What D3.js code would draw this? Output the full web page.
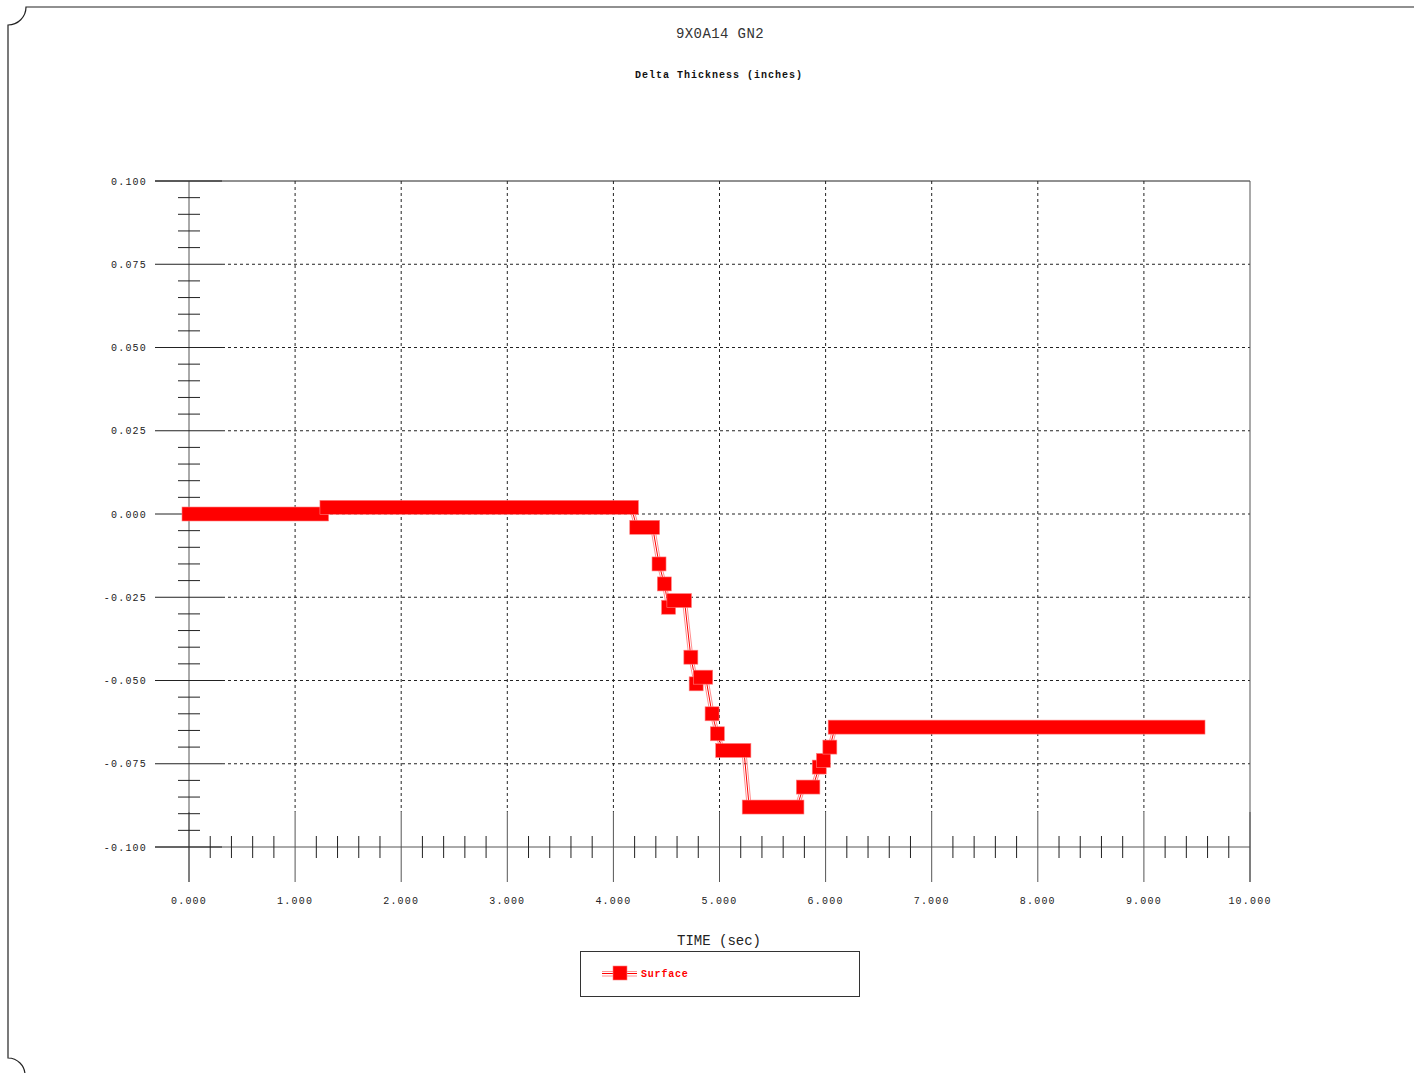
<!DOCTYPE html>
<html>
<head>
<meta charset="utf-8">
<script src="https://cdn.jsdelivr.net/npm/d3@7"></script>
<style>
  body { margin: 0; background: #fff; }
  text { font-family: "Liberation Mono", "DejaVu Sans Mono", monospace; }
</style>
</head>
<body>
<div id="chart"></div>
<script>
// Step segments: start time, end time (sec), value (inches)
const segStart = [0.00, 1.30, 4.22, 4.43, 4.48, 4.52, 4.57, 4.73, 4.78, 4.82, 4.93, 4.98, 5.03, 5.28, 5.79, 5.94, 5.98, 6.04, 6.09];
const segEnd   = [1.25, 4.17, 4.37, 4.43, 4.48, 4.52, 4.67, 4.73, 4.78, 4.87, 4.93, 4.98, 5.23, 5.73, 5.88, 5.94, 5.98, 6.04, 9.51];
const segValue = [0.000, 0.002, -0.004, -0.015, -0.021, -0.028, -0.026, -0.043, -0.051, -0.049, -0.060, -0.066, -0.071, -0.088, -0.082, -0.076, -0.074, -0.070, -0.064];

const xTicks = [0, 1, 2, 3, 4, 5, 6, 7, 8, 9, 10];
const yTicks = [0.100, 0.075, 0.050, 0.025, 0.000, -0.025, -0.050, -0.075, -0.100];

const chartTitle = "9X0A14 GN2";
const yTitle = "Delta Thickness (inches)";
const xTitle = "TIME (sec)";
const seriesName = "Surface";

const W = 1414, H = 1073;
const plot = { left: 189, right: 1250, top: 181, bottom: 847 };
const red = "#ff0000";

const svg = d3.select("#chart").append("svg")
    .attr("width", W)
    .attr("height", H);

// paper edge with notched corners
svg.append("path")
    .attr("d", "M1414,7 L26,7 A18,18 0 0,1 8,25 L8,1058 A17,17 0 0,1 25,1075")
    .attr("fill", "none")
    .attr("stroke", "#222")
    .attr("stroke-width", 1.2);

// Scales
const x = d3.scaleLinear().domain([0, 10]).range([plot.left, plot.right]);
const y = d3.scaleLinear().domain([-0.1, 0.1]).range([plot.bottom, plot.top]);

// minor ticks
const xMinor = d3.range(0, 50).map(i => i * 0.2).filter(v => Math.abs(v - Math.round(v)) > 1e-6);
const yMinor = d3.range(-20, 21).map(i => i * 0.005).filter(v => Math.abs(v / 0.025 - Math.round(v / 0.025)) > 1e-6);

const axisG = svg.append("g");

// dashed grid
axisG.selectAll(".vgrid")
    .data(xTicks.filter(d => d > 0 && d < 10))
    .join("line")
    .attr("x1", d => x(d)).attr("x2", d => x(d))
    .attr("y1", plot.top).attr("y2", plot.bottom - 35)
    .attr("stroke", "#222").attr("stroke-dasharray", "3,3");

axisG.selectAll(".hgrid")
    .data(yTicks.filter(d => d > -0.1 && d < 0.1))
    .join("line")
    .attr("x1", plot.left + 33).attr("x2", plot.right)
    .attr("y1", d => y(d)).attr("y2", d => y(d))
    .attr("stroke", "#222").attr("stroke-dasharray", "3,3");

// frame and axes
axisG.append("line")
    .attr("x1", plot.left - 34).attr("x2", plot.right)
    .attr("y1", plot.top).attr("y2", plot.top)
    .attr("stroke", "#222");
axisG.append("line")
    .attr("x1", plot.left - 34).attr("x2", plot.right)
    .attr("y1", plot.bottom).attr("y2", plot.bottom)
    .attr("stroke", "#555");
axisG.append("line")
    .attr("x1", plot.left).attr("x2", plot.left)
    .attr("y1", plot.top).attr("y2", plot.bottom + 35)
    .attr("stroke", "#555");
axisG.append("line")
    .attr("x1", plot.right).attr("x2", plot.right)
    .attr("y1", plot.top).attr("y2", plot.bottom + 35)
    .attr("stroke", "#555");

// major ticks
axisG.selectAll(".xmajor")
    .data(xTicks)
    .join("line")
    .attr("x1", d => x(d)).attr("x2", d => x(d))
    .attr("y1", plot.bottom - 35).attr("y2", plot.bottom + 35)
    .attr("stroke", "#555");
axisG.selectAll(".ymajor")
    .data(yTicks)
    .join("line")
    .attr("x1", plot.left - 34).attr("x2", plot.left + 33)
    .attr("y1", d => y(d)).attr("y2", d => y(d))
    .attr("stroke", "#222");

// minor ticks
axisG.selectAll(".xminor")
    .data(xMinor)
    .join("line")
    .attr("x1", d => x(d)).attr("x2", d => x(d))
    .attr("y1", plot.bottom - 11).attr("y2", plot.bottom + 11)
    .attr("stroke", "#222");
axisG.selectAll(".yminor")
    .data(yMinor)
    .join("line")
    .attr("x1", plot.left - 11).attr("x2", plot.left + 11)
    .attr("y1", d => y(d)).attr("y2", d => y(d))
    .attr("stroke", "#222");

// tick labels
axisG.selectAll(".xlabel")
    .data(xTicks)
    .join("text")
    .attr("x", d => x(d))
    .attr("y", plot.bottom + 54)
    .attr("text-anchor", "middle")
    .attr("dominant-baseline", "middle")
    .style("font-size", "10px")
    .style("letter-spacing", "1.2px")
    .attr("fill", "#222")
    .text(d => d3.format(".3f")(d));

axisG.selectAll(".ylabel")
    .data(yTicks)
    .join("text")
    .attr("x", plot.left - 42)
    .attr("y", d => y(d) + 1)
    .attr("text-anchor", "end")
    .attr("dominant-baseline", "middle")
    .style("font-size", "10px")
    .style("letter-spacing", "1.2px")
    .attr("fill", "#222")
    .text(d => d3.format(".3f")(d).replace("\u2212", "-"));

// titles
svg.append("text")
    .attr("x", 720).attr("y", 34)
    .attr("text-anchor", "middle")
    .attr("dominant-baseline", "middle")
    .style("font-size", "14px")
    .style("letter-spacing", "0.4px")
    .attr("fill", "#333")
    .text(chartTitle);

svg.append("text")
    .attr("x", 719).attr("y", 75)
    .attr("text-anchor", "middle")
    .attr("dominant-baseline", "middle")
    .style("font-size", "10px")
    .style("font-weight", "bold")
    .style("letter-spacing", "1px")
    .attr("fill", "#111")
    .text(yTitle);

svg.append("text")
    .attr("x", 719).attr("y", 941)
    .attr("text-anchor", "middle")
    .attr("dominant-baseline", "middle")
    .style("font-size", "14px")
    .attr("fill", "#222")
    .text(xTitle);

// Series
const segs = segStart.map((s, i) => ({ t0: s, t1: segEnd[i], v: segValue[i] }));
const links = segs.slice(1).map((s, i) => ({ a: segs[i], b: s }));
const ms = 14;

const series = svg.append("g");
[-2, 2, 0].forEach(off => {
    series.selectAll(null)
        .data(links)
        .join("line")
        .attr("x1", d => x(d.a.t1) + off)
        .attr("y1", d => y(d.a.v))
        .attr("x2", d => x(d.b.t0) + off)
        .attr("y2", d => y(d.b.v))
        .attr("stroke", off === 0 ? red : "#ff9090")
        .attr("stroke-width", 1);
});

series.selectAll(".seg")
    .data(segs)
    .join("rect")
    .attr("x", d => x(d.t0) - ms / 2)
    .attr("y", d => y(d.v) - ms / 2)
    .attr("width", d => x(d.t1) - x(d.t0) + ms)
    .attr("height", ms)
    .attr("fill", red)
    .attr("stroke", "#ff8080")
    .attr("stroke-width", 0.6);

// Legend
const lg = svg.append("g");
lg.append("rect")
    .attr("x", 580.5).attr("y", 951.5)
    .attr("width", 279).attr("height", 45)
    .attr("fill", "none")
    .attr("stroke", "#333");
[971.5, 976, 973.5].forEach((yy, i) => {
    lg.append("line")
        .attr("x1", 602).attr("x2", 637)
        .attr("y1", yy).attr("y2", yy)
        .attr("stroke", i === 2 ? red : "#ff9090");
});
lg.append("rect")
    .attr("x", 613).attr("y", 966)
    .attr("width", 14).attr("height", 14)
    .attr("fill", red)
    .attr("stroke", "#ff8080")
    .attr("stroke-width", 0.6);
lg.append("text")
    .attr("x", 641).attr("y", 974)
    .attr("dominant-baseline", "middle")
    .style("font-size", "10px")
    .style("font-weight", "bold")
    .style("letter-spacing", "0.8px")
    .attr("fill", red)
    .text(seriesName);
</script>
</body>
</html>
